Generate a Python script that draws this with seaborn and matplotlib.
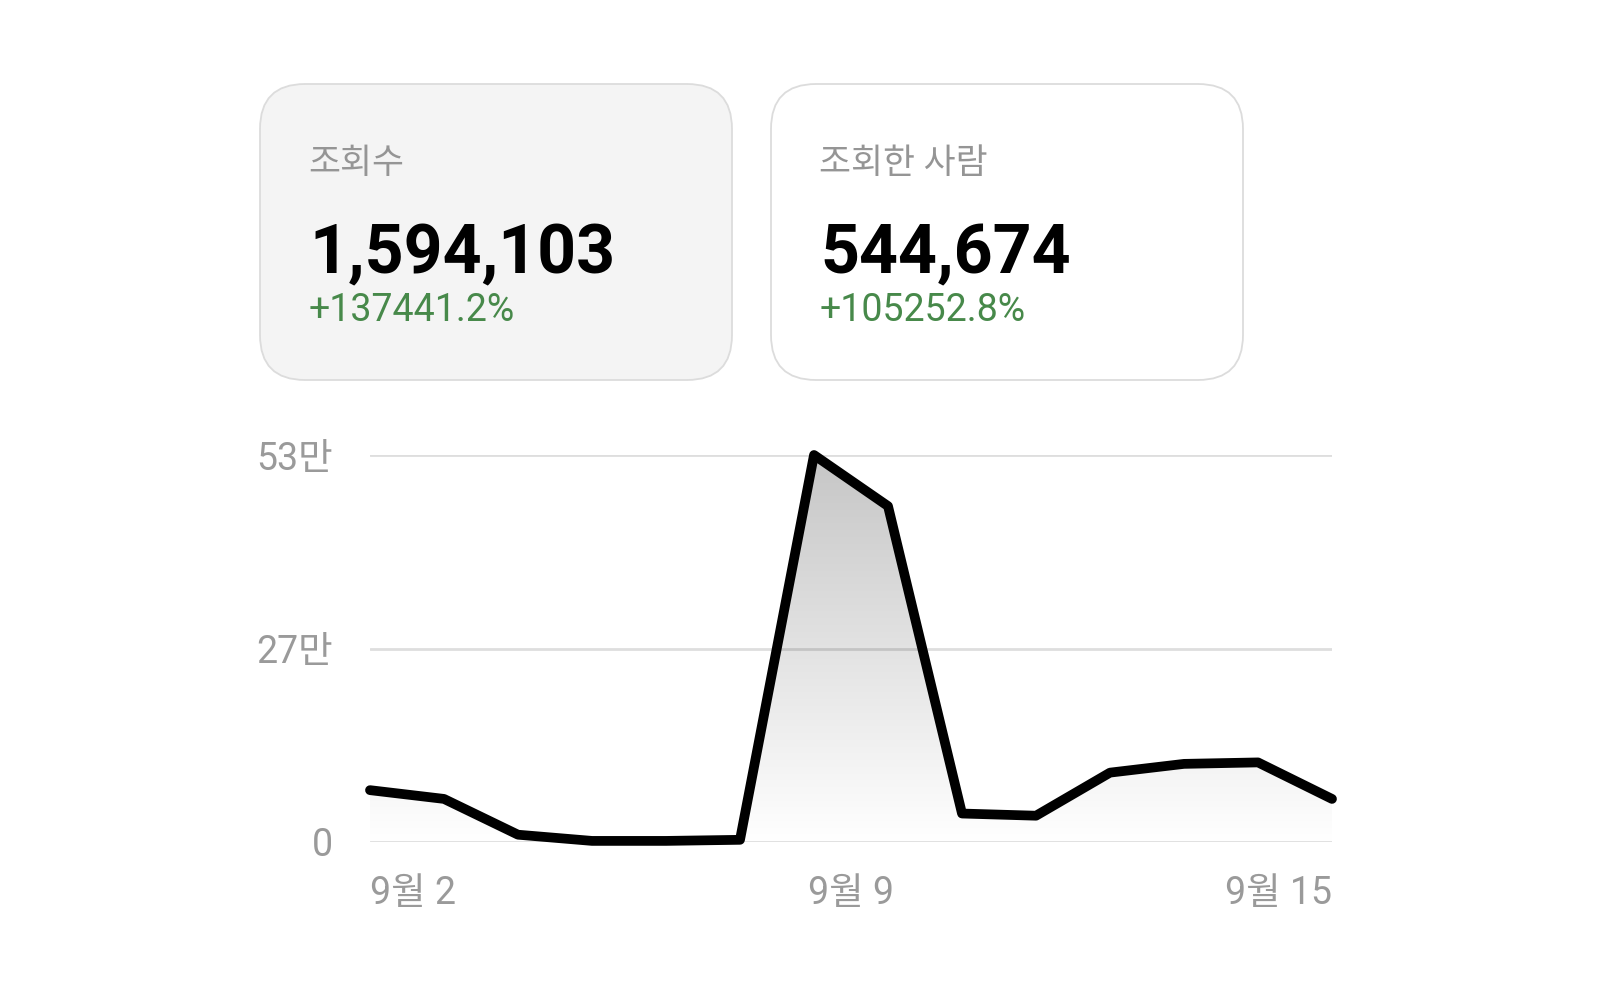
import matplotlib
matplotlib.use("Agg")
import matplotlib.pyplot as plt
from matplotlib.colors import LinearSegmentedColormap
from matplotlib.patches import FancyBboxPatch
import numpy as np
import pandas as pd
import seaborn as sns

# --- dados ---
dias = [2, 3, 4, 5, 6, 7, 8, 9, 10, 11, 12, 13, 14, 15]
visualizacoes = [71000, 59000, 10000, 1500, 1500, 3000, 530000, 460000,
                 39000, 36000, 95000, 107000, 109000, 59000]
y_ticks = [0, 265000, 530000]
y_tick_labels = ["0", "27만", "53만"]

cartoes_titulos = ["조회수", "조회한 사람"]
cartoes_valores = ["1,594,103", "544,674"]
cartoes_variacao = ["+137441.2%", "+105252.8%"]

CINZA = "#9a9a9a"
VERDE = "#47894a"

sns.set_theme(style="white")
plt.rcParams["font.family"] = ["Roboto", "Noto Sans CJK KR", "DejaVu Sans"]

fig = plt.figure(figsize=(16, 10), dpi=100)
fig.patch.set_facecolor("white")

# camada em pixels para os cartões
ov = fig.add_axes([0, 0, 1, 1])
ov.set_xlim(0, 1600)
ov.set_ylim(1000, 0)
ov.axis("off")

card_x = [260, 771]
card_fill = ["#f4f4f4", "white"]
for i in range(2):
    ov.add_patch(FancyBboxPatch((card_x[i], 84), 472, 296,
                                boxstyle="round,pad=0,rounding_size=45",
                                facecolor=card_fill[i], edgecolor="#dcdcdc",
                                linewidth=1.3))
    ov.text(card_x[i] + 48, 173, cartoes_titulos[i], fontsize=25,
            fontweight="medium", color="#959595", va="baseline", ha="left")
    ov.text(card_x[i] + 49, 273, cartoes_valores[i], fontsize=49,
            fontweight="bold", color="black", va="baseline", ha="left")
    ov.text(card_x[i] + 49, 321, cartoes_variacao[i], fontsize=27,
            color=VERDE, va="baseline", ha="left")

# --- gráfico de linha ---
ax = fig.add_axes([370 / 1600, 158 / 1000, 962 / 1600, 387 / 1000])
ax.set_facecolor("none")
df = pd.DataFrame({"dia": dias, "views": visualizacoes})

ymax = y_ticks[-1]
ax.set_xlim(dias[0], dias[-1])
ax.set_ylim(0, ymax)

# preenchimento em degradê recortado pela área sob a linha
area = ax.fill_between(df["dia"], df["views"], 0, facecolor="none", edgecolor="none")
cmap = LinearSegmentedColormap.from_list("grad", ["#ffffff", "#c6c6c6"])
grad = np.linspace(0, 1, 256).reshape(-1, 1)
im = ax.imshow(grad, cmap=cmap, aspect="auto", origin="lower",
               extent=[dias[0], dias[-1], 0, ymax], zorder=1)
im.set_clip_path(area.get_paths()[0], transform=ax.transData)

for t in y_ticks:
    ax.axhline(t, color="black", alpha=0.13, linewidth=2, zorder=2)

sns.lineplot(data=df, x="dia", y="views", ax=ax, color="black", linewidth=7,
             zorder=3, clip_on=False, solid_capstyle="round", solid_joinstyle="round")

ax.set_yticks(y_ticks)
ax.set_yticklabels(y_tick_labels)
meio = (dias[0] + dias[-1]) / 2
ax.set_xticks([dias[0], meio, dias[-1]])
ax.set_xticklabels([f"9월 {dias[0]}", f"9월 {dias[len(dias) // 2]}", f"9월 {dias[-1]}"])
for lbl, ha in zip(ax.get_xticklabels(), ["left", "center", "right"]):
    lbl.set_ha(ha)
ax.tick_params(axis="both", length=0, labelsize=27, labelcolor=CINZA)
ax.tick_params(axis="y", pad=27)
ax.tick_params(axis="x", pad=24)
ax.set_xlabel("")
ax.set_ylabel("")
sns.despine(ax=ax, left=True, bottom=True)
ax.grid(False)

fig.savefig("out.png", dpi=100, facecolor="white")
plt.close(fig)
